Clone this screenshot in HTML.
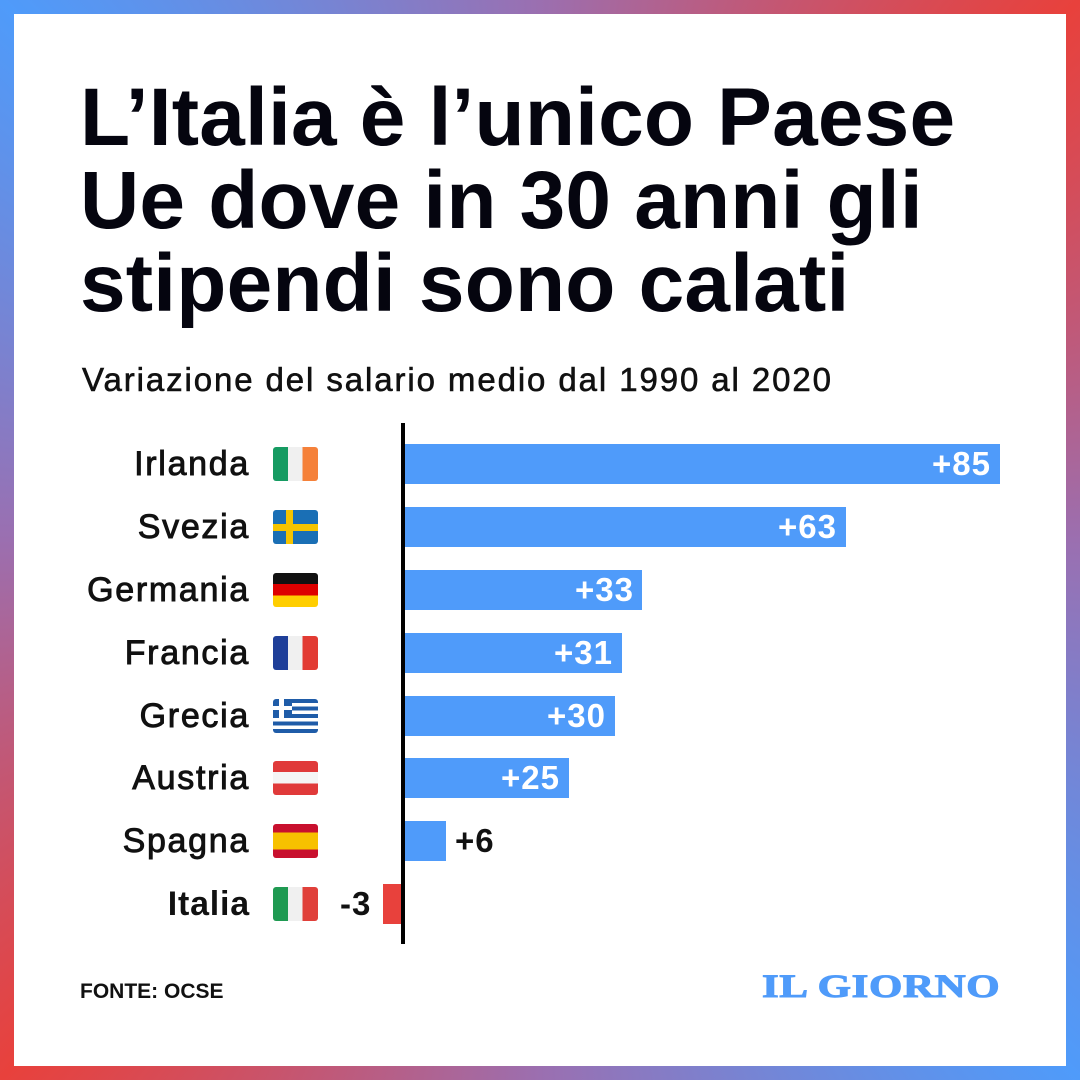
<!DOCTYPE html>
<html><head><meta charset="utf-8"><style>
*{margin:0;padding:0;box-sizing:border-box}
body{width:1080px;height:1080px;position:relative;overflow:hidden;font-family:"Liberation Sans",sans-serif;
background:conic-gradient(from 0deg,#9b6fb0 0deg,#e8413c 45deg,#9b6fb0 90deg,#4f9bfa 135deg,#9b6fb0 180deg,#e8413c 225deg,#9b6fb0 270deg,#4f9bfa 315deg,#9b6fb0 360deg);}
.panel{position:absolute;left:14px;top:14px;width:1052px;height:1052px;background:#fff}
.t{position:absolute;left:80px;top:76px;font-size:82px;line-height:83px;font-weight:bold;color:#05050f;letter-spacing:0.2px;white-space:nowrap}
.sub{position:absolute;left:82px;top:361px;font-size:33px;color:#111;-webkit-text-stroke:0.6px #111;white-space:nowrap;letter-spacing:1.9px}
.lab{position:absolute;right:830px;font-size:34px;color:#111;-webkit-text-stroke:0.9px #111;white-space:nowrap;line-height:40px;letter-spacing:1.7px}
.flag{position:absolute;left:273px;width:45px;height:34px;border-radius:3px;overflow:hidden}
.bar{position:absolute;left:405px;height:40px;background:#4f9bfa}
.v{position:absolute;font-size:33px;font-weight:bold;line-height:40px;white-space:nowrap;letter-spacing:1px}
.axis{position:absolute;left:401px;top:423px;width:4px;height:521px;background:#000}
</style></head><body>
<div class="panel"></div>
<div class="t">L’Italia è l’unico Paese<br>Ue dove in 30 anni gli<br>stipendi sono calati</div>
<div class="sub">Variazione del salario medio dal 1990 al 2020</div>

<div class="lab" style="top:444px">Irlanda</div>
<div class="lab" style="top:507px">Svezia</div>
<div class="lab" style="top:570px">Germania</div>
<div class="lab" style="top:633px">Francia</div>
<div class="lab" style="top:696px">Grecia</div>
<div class="lab" style="top:758px">Austria</div>
<div class="lab" style="top:821px">Spagna</div>
<div class="lab" style="top:884px;font-weight:bold;-webkit-text-stroke:0;letter-spacing:0.8px">Italia</div>

<div class="flag" style="top:447px;background:linear-gradient(90deg,#169b62 33%,#f0f0f0 33% 66%,#f5813a 66%)"></div>
<div class="flag" style="top:510px;background:linear-gradient(#f5c400,#f5c400) 13px 0/7px 100% no-repeat,linear-gradient(#f5c400,#f5c400) 0 14px/100% 7px no-repeat,#1a6fb5"></div>
<div class="flag" style="top:573px;background:linear-gradient(#111 33%,#dd0000 33% 66%,#ffce00 66%)"></div>
<div class="flag" style="top:636px;background:linear-gradient(90deg,#1f3f99 33%,#f0f0f0 33% 66%,#e23b33 66%)"></div>
<div class="flag" style="top:699px;background:linear-gradient(#fff,#fff) 6px 0/5px 19px no-repeat,linear-gradient(#fff,#fff) 0 7px/19px 4px no-repeat,linear-gradient(#1f5ca8,#1f5ca8) 0 0/19px 19px no-repeat,repeating-linear-gradient(#1f5ca8 0 4px,#fff 4px 7.5px)"></div>
<div class="flag" style="top:761px;background:linear-gradient(#e03a3a 33%,#f5f5f5 33% 66%,#e03a3a 66%)"></div>
<div class="flag" style="top:824px;background:linear-gradient(#c8102e 25%,#f7c100 25% 75%,#c8102e 75%)"></div>
<div class="flag" style="top:887px;background:linear-gradient(90deg,#1f9a52 33%,#f0f0f0 33% 66%,#e0403a 66%)"></div>

<div class="bar" style="top:444px;width:595px"></div>
<div class="bar" style="top:507px;width:441px"></div>
<div class="bar" style="top:570px;width:237px"></div>
<div class="bar" style="top:633px;width:217px"></div>
<div class="bar" style="top:696px;width:210px"></div>
<div class="bar" style="top:758px;width:164px"></div>
<div class="bar" style="top:821px;width:41px"></div>
<div style="position:absolute;left:383px;top:884px;width:20px;height:40px;background:#e8413c"></div>
<div class="axis"></div>

<div class="v" style="top:444px;right:89px;color:#fff">+85</div>
<div class="v" style="top:507px;right:243px;color:#fff">+63</div>
<div class="v" style="top:570px;right:446px;color:#fff">+33</div>
<div class="v" style="top:633px;right:467px;color:#fff">+31</div>
<div class="v" style="top:696px;right:474px;color:#fff">+30</div>
<div class="v" style="top:758px;right:520px;color:#fff">+25</div>
<div class="v" style="top:821px;left:455px;color:#111">+6</div>
<div class="v" style="top:884px;left:340px;color:#111">-3</div>

<div style="position:absolute;left:80px;top:980px;font-size:21px;font-weight:bold;color:#111">FONTE: OCSE</div>
<div style="position:absolute;left:762px;top:969px;font-family:'Liberation Serif',serif;font-weight:bold;font-size:33px;color:#4f9bfa;letter-spacing:0.5px;transform:scaleX(1.3);transform-origin:left;-webkit-text-stroke:1px #4f9bfa">IL GIORNO</div>
</body></html>
